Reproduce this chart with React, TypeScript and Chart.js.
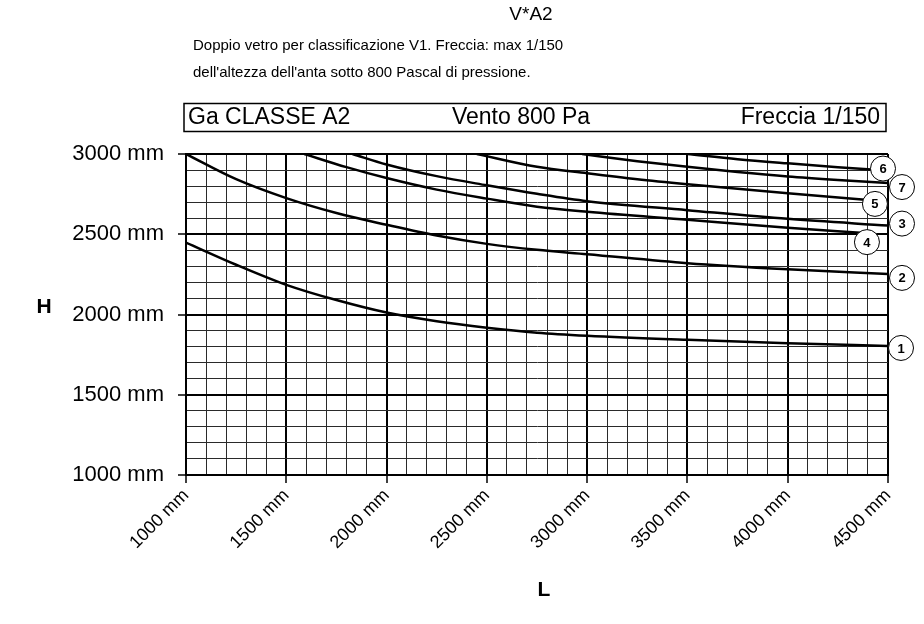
import React, { useEffect, useRef } from "react";
import { Chart, registerables } from "chart.js";

Chart.register(...registerables);

// ---------- texts ----------
const CHART_TITLE = "V*A2";
const SUBTITLE_LINES = [
  "Doppio vetro per classificazione V1. Freccia: max 1/150",
  "dell'altezza dell'anta sotto 800 Pascal di pressione.",
];
const HEADER_LEFT = "Ga CLASSE A2";
const HEADER_CENTER = "Vento 800 Pa";
const HEADER_RIGHT = "Freccia 1/150";
const X_TITLE = "L";
const Y_TITLE = "H";
const UNIT = "mm";

// ---------- axes ----------
const X_MIN = 1000;
const X_MAX = 4500;
const Y_MIN = 1000;
const Y_MAX = 3000;
const MAJOR_STEP = 500;
const MINOR_STEP = 100;

// ---------- series (L in mm -> H in mm) ----------
const CURVE_LABELS = ["1", "2", "3", "4", "5", "6", "7"];

const L_1 = [1000, 1250, 1500, 1750, 2000, 2250, 2500, 2750, 3000, 3500, 4000, 4500];
const H_1 = [2448, 2310, 2185, 2090, 2012, 1958, 1918, 1887, 1868, 1842, 1821, 1804];

const L_2 = [1000, 1250, 1500, 1750, 2000, 2250, 2500, 2750, 3000, 3500, 4000, 4500];
const H_2 = [3000, 2843, 2725, 2632, 2559, 2492, 2440, 2403, 2376, 2320, 2282, 2253];

const L_3 = [1830, 2000, 2250, 2500, 2750, 3000, 3500, 4000, 4500];
const H_3 = [3000, 2935, 2862, 2805, 2752, 2706, 2650, 2596, 2554];

const L_4 = [1590, 1800, 2000, 2250, 2500, 2750, 3000, 3500, 4000, 4400];
const H_4 = [3000, 2918, 2850, 2778, 2722, 2672, 2640, 2590, 2540, 2507];

const L_5 = [2450, 2750, 3000, 3250, 3500, 4000, 4400];
const H_5 = [3000, 2920, 2880, 2843, 2812, 2756, 2714];

const L_6 = [3500, 3750, 4000, 4250, 4500];
const H_6 = [3000, 2968, 2942, 2918, 2897];

const L_7 = [2975, 3250, 3500, 3750, 4000, 4250, 4500];
const H_7 = [3000, 2955, 2920, 2888, 2860, 2838, 2819];

const SERIES_L = [L_1, L_2, L_3, L_4, L_5, L_6, L_7];
const SERIES_H = [H_1, H_2, H_3, H_4, H_5, H_6, H_7];

// ---------- style ----------
const FONT = '"Liberation Sans", Arial, Helvetica, sans-serif';
// pixel offset of each circled number from its curve's end point
const LABEL_OFFSETS: Record<string, [number, number]> = {
  "1": [13, 2],
  "2": [14, 4],
  "3": [14, -2],
  "4": [-1, 9],
  "5": [7, 4],
  "6": [-5, -2],
  "7": [14, 4],
};

const isMajor = (v: number) => Math.round(v) % MAJOR_STEP === 0;

const decorPlugin = {
  id: "decor",
  afterDatasetsDraw(chart: any) {
    const ctx = chart.ctx;
    ctx.save();
    chart.data.datasets.forEach((ds: any, i: number) => {
      const meta = chart.getDatasetMeta(i);
      const last = meta.data[meta.data.length - 1];
      if (!last) return;
      const off = LABEL_OFFSETS[ds.label] || [12, 0];
      const cx = last.x + off[0];
      const cy = last.y + off[1];
      ctx.beginPath();
      ctx.arc(cx, cy, 12.5, 0, Math.PI * 2);
      ctx.fillStyle = "#fff";
      ctx.fill();
      ctx.lineWidth = 1;
      ctx.strokeStyle = "#000";
      ctx.stroke();
      ctx.fillStyle = "#000";
      ctx.font = `bold 13px ${FONT}`;
      ctx.textAlign = "center";
      ctx.textBaseline = "middle";
      ctx.fillText(ds.label, cx, cy + 1);
    });
    ctx.restore();
  },
  afterDraw(chart: any) {
    const ctx = chart.ctx;
    ctx.save();
    ctx.fillStyle = "#000";
    ctx.textBaseline = "middle";

    ctx.font = `19px ${FONT}`;
    ctx.textAlign = "center";
    ctx.fillText(CHART_TITLE, 531, 15);

    ctx.font = `15px ${FONT}`;
    ctx.textAlign = "left";
    ctx.fillText(SUBTITLE_LINES[0], 193, 46);
    ctx.fillText(SUBTITLE_LINES[1], 193, 73);

    ctx.lineWidth = 1.5;
    ctx.strokeStyle = "#000";
    ctx.strokeRect(184, 103.5, 702, 28);
    ctx.font = `23px ${FONT}`;
    ctx.textAlign = "left";
    ctx.fillText(HEADER_LEFT, 188, 118);
    ctx.textAlign = "center";
    ctx.fillText(HEADER_CENTER, 521, 118);
    ctx.textAlign = "right";
    ctx.fillText(HEADER_RIGHT, 880, 118);

    ctx.font = `bold 21px ${FONT}`;
    ctx.textAlign = "center";
    ctx.fillText(Y_TITLE, 44, 307);
    ctx.fillText(X_TITLE, 544, 590);
    ctx.restore();
  },
};

const gridStyle = {
  color: (c: any) => (c.tick && isMajor(c.tick.value) ? "#000" : "#2a2a2a"),
  lineWidth: (c: any) => (c.tick && isMajor(c.tick.value) ? 2 : 1),
  tickColor: (c: any) => (c.tick && isMajor(c.tick.value) ? "#000" : "rgba(0,0,0,0)"),
  tickWidth: 1.5,
  tickLength: 8,
  drawTicks: true,
};

export default function App() {
  const ref = useRef<HTMLCanvasElement>(null);

  useEffect(() => {
    if (!ref.current) return;
    const datasets = CURVE_LABELS.map((label, i) => ({
      label,
      data: SERIES_L[i].map((x, j) => ({ x, y: SERIES_H[i][j] })),
      borderColor: "#000",
      borderWidth: 2.5,
      pointRadius: 0,
      fill: false,
      tension: 0.4,
      cubicInterpolationMode: "monotone" as const,
    }));

    const chart = new Chart(ref.current, {
      type: "line",
      data: { datasets },
      plugins: [decorPlugin],
      options: {
        animation: false,
        responsive: false,
        devicePixelRatio: 1,
        parsing: false as any,
        layout: { padding: { left: 0, top: 154, right: 36, bottom: 0 } },
        plugins: {
          legend: { display: false },
          tooltip: { enabled: false },
          title: { display: false },
        },
        scales: {
          x: {
            type: "linear",
            min: X_MIN,
            max: X_MAX,
            border: { color: "#000", width: 2 },
            grid: gridStyle as any,
            ticks: {
              stepSize: MINOR_STEP,
              autoSkip: false,
              minRotation: 45,
              maxRotation: 45,
              padding: 2,
              color: "#000",
              font: { family: FONT, size: 18 },
              callback: (v: any) => (isMajor(Number(v)) ? `${v} ${UNIT}` : ""),
            },
            afterFit: (s: any) => {
              s.height = 624 - 475;
            },
          },
          y: {
            type: "linear",
            min: Y_MIN,
            max: Y_MAX,
            border: { color: "#000", width: 2 },
            grid: gridStyle as any,
            ticks: {
              stepSize: MINOR_STEP,
              autoSkip: false,
              padding: 14,
              color: "#000",
              font: { family: FONT, size: 22 },
              callback: (v: any) => (isMajor(Number(v)) ? `${v} ${UNIT}` : ""),
            },
            afterFit: (s: any) => {
              s.width = 186;
            },
          },
        },
      },
    });
    return () => chart.destroy();
  }, []);

  return (
    <div style={{ position: "absolute", left: 0, top: 0, width: 924, height: 624, background: "#fff" }}>
      <canvas ref={ref} width={924} height={624} style={{ display: "block", width: 924, height: 624 }} />
    </div>
  );
}
